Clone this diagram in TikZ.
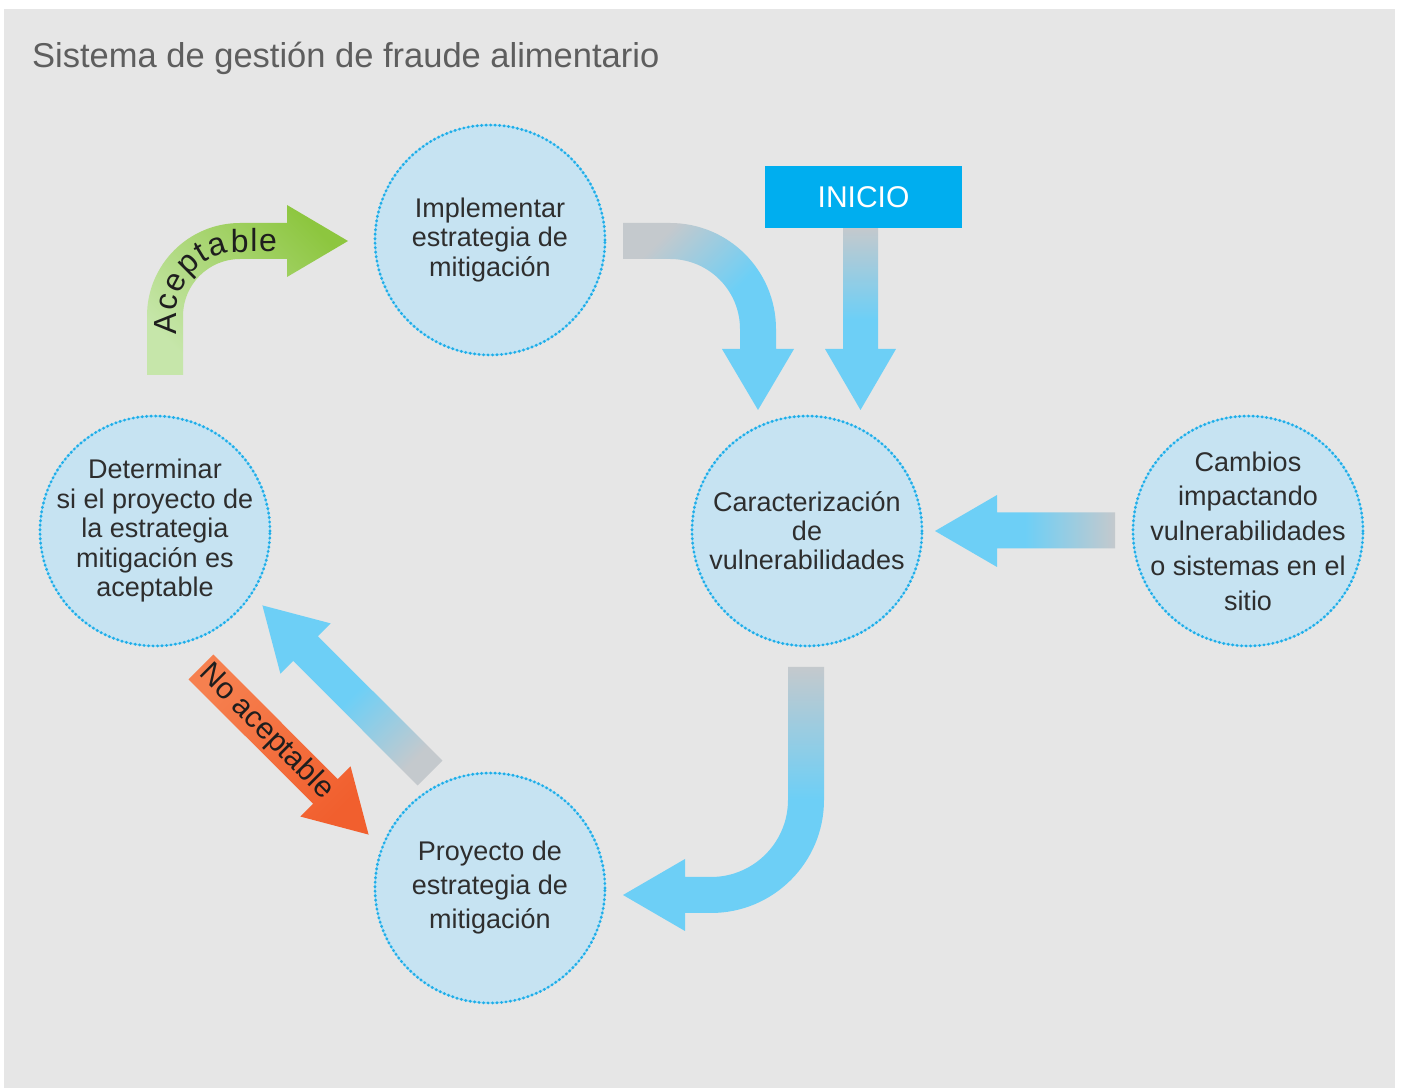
\documentclass[tikz,border=0pt]{standalone}
\usepackage{fontspec}
\setmainfont{Liberation Sans}
\usetikzlibrary{decorations.text,calc,backgrounds}
\definecolor{bg}{HTML}{E6E6E6}
\definecolor{arrblue}{HTML}{6DCFF6}
\definecolor{arrgray}{HTML}{C4C9CD}
\definecolor{circfill}{HTML}{C6E3F2}
\definecolor{circline}{HTML}{1FADE8}
\definecolor{inicioblue}{HTML}{00AEEF}
\definecolor{greendark}{HTML}{8DC63F}
\definecolor{greenlight}{HTML}{C6E6AA}
\definecolor{orlight}{HTML}{F6804F}
\definecolor{ordark}{HTML}{F15F2E}
\definecolor{txt}{HTML}{2E2E2E}
\definecolor{arrtxt}{HTML}{1E1E1E}
\definecolor{titlegray}{HTML}{5E5E5E}
\begin{document}
\begin{tikzpicture}[x=1pt,y=1pt,
  circ/.style={circle, minimum size=230pt, inner sep=0pt, align=center, text=txt},
  ringhalo/.style={draw=circline!45, line width=1.4pt},
  ringdots/.style={draw=circline, line width=3.2pt, line cap=round, dash pattern=on 0pt off 4.5pt},
  bluearrow/.style={top color=arrgray, bottom color=arrblue, middle color=arrblue},
  lbl/.style={text=arrtxt, inner sep=0pt},
]
\useasboundingbox (0,0) rectangle (1401,1088);

% title
\node[anchor=base west, text=titlegray, font=\fontsize{34.5}{34.5}\selectfont, inner sep=0pt] (title) at (32,1020) {Sistema de gestión de fraude alimentario};

% circles
\node[circ, font=\fontsize{27}{29.5}\selectfont] (impl) at (490,848) {Implementar\\estrategia de\\mitigación};
\node[circ, font=\fontsize{27}{29}\selectfont] (carac) at (807,557) {Caracterización\\de\\vulnerabilidades};
\node[circ, font=\fontsize{27}{34.75}\selectfont] (camb) at (1248,557) {Cambios\\impactando\\vulnerabilidades\\o sistemas en el\\sitio};
\node[circ, font=\fontsize{27}{29.5}\selectfont] (det) at (155,557) {Determinar\\si el proyecto de\\la estrategia\\mitigación es\\aceptable};
\node[circ, font=\fontsize{27}{34}\selectfont] (proy) at (490,200) {Proyecto de\\estrategia de\\mitigación};

\begin{scope}[on background layer]
\fill[white] (0,0) rectangle (1401,1088);
\fill[bg] (4,0) rectangle (1395,1079);
\foreach \c in {impl,carac,camb,det,proy}{
  \fill[circfill] (\c.center) circle[radius=115pt];
  \draw[ringhalo] (\c.center) circle[radius=115pt];
  \draw[ringdots] (\c.center) circle[radius=115pt];
}
\end{scope}

% INICIO box
\node[fill=inicioblue, minimum width=197pt, minimum height=62pt, text=white, font=\fontsize{30}{30}\selectfont, inner sep=0pt] (inicio) at (863.5,891) {INICIO};

% arrow: implementar -> caracterizacion (curved)
\shade[bluearrow, shading angle=45] (623,865) -- (670,865) arc[start angle=90,end angle=0,radius=106pt] -- (776,739) -- (794,739) -- (758,678) -- (722,739) -- (740,739) -- (740,759) arc[start angle=0,end angle=90,radius=70pt] -- (623,829) -- cycle;

% arrow: INICIO -> caracterizacion
\shade[bluearrow] (843,0|-inicio.south) -- (878,0|-inicio.south) -- (878,739) -- (896,739) -- (860.5,678) -- (825,739) -- (843,739) -- cycle;

% arrow: cambios -> caracterizacion
\shade[bluearrow, shading angle=-90] (1115,575.5) -- (997,575.5) -- (997,593) -- (935,557) -- (997,521) -- (997,539.5) -- (1115,539.5) -- cycle;

% arrow: caracterizacion -> proyecto (J shape)
\shade[bluearrow] (788,421) -- (824,421) -- (824,288) arc[start angle=0,end angle=-90,radius=113pt] -- (685,175) -- (685,157) -- (623,193) -- (685,229) -- (685,211) -- (711,211) arc[start angle=-90,end angle=0,radius=77pt] -- cycle;

% arrow: proyecto -> determinar (diagonal)
\shade[bluearrow, shading angle=-135] (442.4,327.4) -- (317.9,451.8) -- (330.7,464.6) -- (262.4,482.6) -- (280.4,414.3) -- (293.2,427.1) -- (417.6,302.6) -- cycle;

% arrow: No aceptable (orange)
\shade[top color=orlight, bottom color=ordark, shading angle=45] (188.6,408.6) -- (313.1,284.2) -- (300.35,271.45) -- (368.6,253.4) -- (350.55,321.65) -- (337.8,308.9) -- (213.4,433.4) -- cycle;
\node[lbl, rotate=-45, font=\fontsize{30}{30}\selectfont] (noacep) at (266,356) {No aceptable};

% arrow: Aceptable (green, curved)
\shade[top color=greenlight, bottom color=greendark, shading angle=135] (147,713) -- (147,772) arc[start angle=180,end angle=90,radius=93pt] -- (287,865) -- (287,883) -- (348,847) -- (287,811) -- (287,829) -- (240,829) arc[start angle=90,end angle=180,radius=57pt] -- (183,713) -- cycle;
\path[decorate, decoration={text along path, text align={fit to path},
  text={|\color{arrtxt}\fontsize{32}{32}\selectfont|Aceptable}}]
  (176,753) -- (176,772) arc[start angle=180,end angle=90,radius=64pt] -- (277,836);
\end{tikzpicture}
\end{document}
